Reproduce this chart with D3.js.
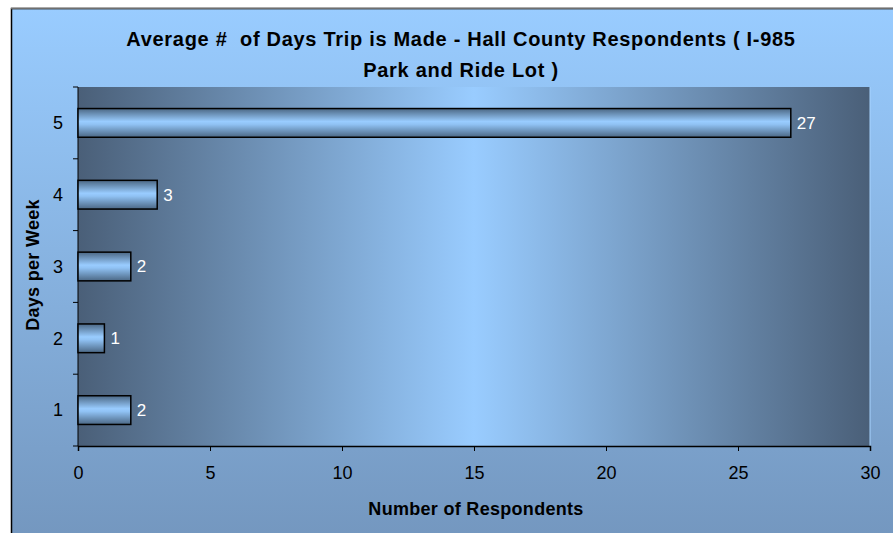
<!DOCTYPE html>
<html>
<head>
<meta charset="utf-8">
<title>Average # of Days Trip is Made</title>
<script src="https://cdn.jsdelivr.net/npm/d3@7"></script>
<style>
html, body { margin: 0; padding: 0; background: #fff; }
svg { display: block; font-family: "Liberation Sans", Arial, sans-serif; }
.axis path, .axis line { stroke: #000; }
</style>
</head>
<body>
<svg width="893" height="533"></svg>
<script>
// data
var days = ["1", "2", "3", "4", "5"];
var respondents = [2, 1, 2, 3, 27];
var xTicks = [0, 5, 10, 15, 20, 25, 30];
var titleLines = ["Average #  of Days Trip is Made - Hall County Respondents ( I-985", "Park and Ride Lot )"];

var svg = d3.select("svg");
var defs = svg.append("defs");

// chart area background (light top -> darker bottom)
var bg = defs.append("linearGradient").attr("id", "bg").attr("x1", 0).attr("y1", 0).attr("x2", 0).attr("y2", 1);
bg.append("stop").attr("offset", "0%").attr("stop-color", "#99ccff");
bg.append("stop").attr("offset", "100%").attr("stop-color", "#7396be");

// plot area: dark at the sides, light in the middle
var pg = defs.append("linearGradient").attr("id", "plotbg").attr("x1", 0).attr("y1", 0).attr("x2", 1).attr("y2", 0);
pg.append("stop").attr("offset", "0%").attr("stop-color", "#4a5f78");
pg.append("stop").attr("offset", "50%").attr("stop-color", "#99ccff");
pg.append("stop").attr("offset", "100%").attr("stop-color", "#4a5f78");

// bars: dark top and bottom, light band in the middle
var bgr = defs.append("linearGradient").attr("id", "bar").attr("x1", 0).attr("y1", 0).attr("x2", 0).attr("y2", 1);
bgr.append("stop").attr("offset", "0%").attr("stop-color", "#4b6784");
bgr.append("stop").attr("offset", "45%").attr("stop-color", "#99ccff");
bgr.append("stop").attr("offset", "55%").attr("stop-color", "#90c2f4");
bgr.append("stop").attr("offset", "100%").attr("stop-color", "#4b6784");

svg.append("rect")
    .attr("x", 11.5).attr("y", 8.5)
    .attr("width", 900).attr("height", 540)
    .attr("fill", "url(#bg)")
    .attr("stroke", "#000").attr("stroke-width", 1.5);
svg.append("line")
    .attr("x1", 11).attr("x2", 893).attr("y1", 8.5).attr("y2", 8.5)
    .attr("stroke", "#6f6f6f").attr("stroke-width", 1.5);

var margin = {top: 87, left: 78},
    width = 792, height = 359;

var x = d3.scaleLinear().domain([0, 30]).range([0, width]);
var y = d3.scaleBand().domain(days.slice().reverse()).range([0, height]).paddingInner(0.6).paddingOuter(0.3);

var g = svg.append("g").attr("transform", "translate(" + margin.left + "," + margin.top + ")");

g.append("rect")
    .attr("width", width).attr("height", height)
    .attr("fill", "url(#plotbg)");
g.append("line")
    .attr("x1", width).attr("x2", width).attr("y1", 0).attr("y2", height)
    .attr("stroke", "#a8d4ff").attr("stroke-width", 1);

// x axis
var xAxis = g.append("g")
    .attr("class", "axis")
    .attr("transform", "translate(0," + height + ")")
    .call(d3.axisBottom(x).tickValues(xTicks).tickSize(5).tickPadding(15));
xAxis.select(".domain").attr("stroke", "#3a4a5c").attr("stroke-width", 1.5);
xAxis.selectAll("text").style("font-size", "18px").attr("fill", "#000");

// y axis: ticks sit on category boundaries
var yAxis = g.append("g").attr("class", "axis");
yAxis.append("line").attr("x1", 0).attr("x2", 0).attr("y1", 0).attr("y2", height).attr("stroke", "#000");
var step = height / days.length;
yAxis.selectAll(".bt")
    .data(d3.range(days.length + 1))
    .enter().append("line")
    .attr("x1", -5).attr("x2", 0)
    .attr("y1", function(i) { return i * step; })
    .attr("y2", function(i) { return i * step; })
    .attr("stroke", "#000");
yAxis.selectAll(".lbl")
    .data(days)
    .enter().append("text")
    .attr("x", -15)
    .attr("y", function(d) { return y(d) + y.bandwidth() / 2; })
    .attr("dy", "0.35em")
    .attr("text-anchor", "end")
    .style("font-size", "18px")
    .text(function(d) { return d; });

// bars
var data = days.map(function(d, i) { return {day: d, value: respondents[i]}; });

g.selectAll(".bar")
    .data(data)
    .enter().append("rect")
    .attr("class", "bar")
    .attr("x", 0)
    .attr("y", function(d) { return y(d.day); })
    .attr("width", function(d) { return x(d.value); })
    .attr("height", y.bandwidth())
    .attr("fill", "url(#bar)")
    .attr("stroke", "#000")
    .attr("stroke-width", 1.5);

g.selectAll(".val")
    .data(data)
    .enter().append("text")
    .attr("x", function(d) { return x(d.value) + 6; })
    .attr("y", function(d) { return y(d.day) + y.bandwidth() / 2; })
    .attr("dy", "0.35em")
    .attr("fill", "#fff")
    .style("font-size", "17px")
    .text(function(d) { return d.value; });

// titles
svg.selectAll(".title")
    .data(titleLines)
    .enter().append("text")
    .attr("x", 461)
    .attr("y", function(d, i) { return 46 + i * 31; })
    .attr("text-anchor", "middle")
    .style("font-size", "20px")
    .style("font-weight", "bold")
    .style("letter-spacing", "0.7px")
    .style("white-space", "pre")
    .text(function(d) { return d; });

svg.append("text")
    .attr("x", 476).attr("y", 515)
    .attr("text-anchor", "middle")
    .style("font-size", "18px")
    .style("font-weight", "bold")
    .style("letter-spacing", "0.3px")
    .text("Number of Respondents");

svg.append("text")
    .attr("transform", "translate(39,265) rotate(-90)")
    .attr("text-anchor", "middle")
    .style("font-size", "18px")
    .style("font-weight", "bold")
    .style("letter-spacing", "0.3px")
    .text("Days per Week");
</script>
</body>
</html>
